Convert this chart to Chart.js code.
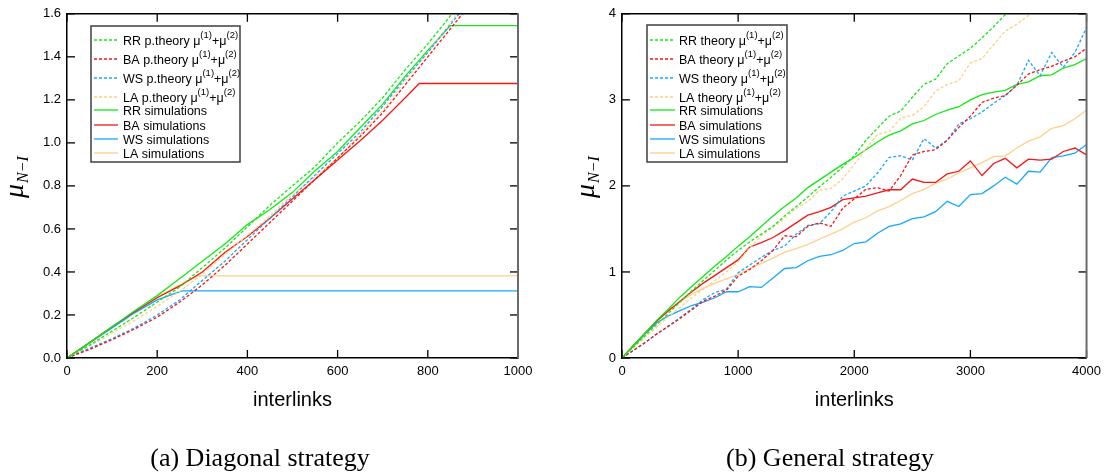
<!DOCTYPE html>
<html><head><meta charset="utf-8">
<script src="https://cdn.jsdelivr.net/npm/chart.js@4/dist/chart.umd.min.js"></script>
<style>
html,body{margin:0;padding:0;background:#fff;}
#wrap{position:relative;width:1107px;height:476px;overflow:hidden;background:#fff;}
canvas{position:absolute;top:0;}
#c1{left:0;} #c2{left:553px;}
.cap{position:absolute;top:443px;font-family:"Liberation Serif",serif;font-size:26px;line-height:30px;white-space:nowrap;transform:translateX(-50%);color:#000;}
</style></head><body>
<div id="wrap">
<canvas id="c1" width="540" height="476"></canvas>
<canvas id="c2" width="554" height="476"></canvas>
<div class="cap" style="left:260px">(a) Diagonal strategy</div>
<div class="cap" style="left:830px">(b) General strategy</div>
</div>
<script>
// ---------- (a) Diagonal strategy ----------
const xA = [0,50,100,150,200,250,300,350,400,450,500,550,600,650,700,750,800,850,900,950,1000];
const rrTheoryA = [0,0.06,0.125,0.19,0.26,0.33,0.42,0.51,0.61,0.71,0.80,0.89,1.00,1.10,1.21,1.34,1.46,1.59,1.72];
const baTheoryA = [0,0.04,0.085,0.135,0.19,0.26,0.34,0.43,0.53,0.63,0.73,0.83,0.93,1.03,1.14,1.27,1.40,1.53,1.66];
const wsTheoryA = [0,0.045,0.09,0.14,0.20,0.27,0.36,0.45,0.55,0.65,0.75,0.85,0.95,1.05,1.17,1.30,1.42,1.55,1.68];
const laTheoryA = [0,0.055,0.115,0.175,0.24,0.31,0.39,0.48,0.57,0.66,0.76,0.84,0.93,1.04,1.15,1.29,1.42,1.56,1.70];
const rrSimAx = [0,50,100,150,200,250,300,350,400,450,500,550,600,650,700,750,800,850,1000];
const rrSimA  = [0,0.072,0.145,0.22,0.29,0.37,0.45,0.53,0.62,0.69,0.77,0.87,0.96,1.07,1.18,1.31,1.43,1.545,1.545];
const baSimAx = [0,50,100,150,200,250,300,350,400,450,500,550,600,650,700,750,781,1000];
const baSimA  = [0,0.072,0.145,0.215,0.28,0.335,0.40,0.49,0.565,0.65,0.74,0.83,0.92,1.01,1.105,1.21,1.276,1.276];
const wsSimAx = [0,50,100,150,200,255,1000];
const wsSimA  = [0,0.07,0.14,0.21,0.27,0.312,0.312];
const laSimAx = [0,50,100,150,200,250,290,1000];
const laSimA  = [0,0.072,0.145,0.215,0.285,0.34,0.382,0.382];

// ---------- (b) General strategy ----------
const xB = [0,100,200,300,400,500,600,700,800,900,1000,1100,1200,1300,1400,1500,1600,1700,1800,1900,2000,
            2100,2200,2300,2400,2500,2600,2700,2800,2900,3000,3100,3200,3300,3400,3500,3600,3700,3800,3900,4000];
const rrTheoryB = [0,0.13,0.26,0.39,0.52,0.65,0.78,0.90,1.02,1.14,1.25,1.35,1.44,1.53,1.65,1.76,1.87,1.99,2.10,2.22,2.35,
                   2.53,2.67,2.81,2.87,3.03,3.18,3.24,3.42,3.51,3.60,3.72,3.85,3.99,4.13];
const baTheoryB = [0,0.09,0.18,0.28,0.37,0.46,0.56,0.66,0.72,0.79,0.95,1.03,1.13,1.25,1.42,1.41,1.53,1.57,1.53,1.74,1.85,
                   1.96,1.98,1.94,2.12,2.36,2.40,2.42,2.53,2.68,2.81,2.97,3.02,3.05,3.17,3.30,3.35,3.39,3.45,3.50,3.60];
const wsTheoryB = [0,0.09,0.18,0.28,0.37,0.47,0.57,0.68,0.76,0.80,0.99,1.08,1.17,1.25,1.30,1.44,1.54,1.56,1.70,1.88,1.94,
                   2.00,2.15,2.33,2.35,2.30,2.55,2.44,2.53,2.72,2.78,2.86,2.96,3.05,3.17,3.46,3.28,3.55,3.38,3.55,3.84];
const laTheoryB = [0,0.12,0.24,0.36,0.48,0.59,0.70,0.80,0.90,1.00,1.12,1.28,1.42,1.52,1.62,1.74,1.82,1.95,1.97,2.08,2.25,
                   2.43,2.60,2.63,2.79,2.82,2.92,3.10,3.18,3.22,3.43,3.48,3.64,3.80,3.88,3.98,4.10];
const rrSimB = [0,0.15,0.29,0.44,0.57,0.71,0.83,0.95,1.07,1.18,1.30,1.41,1.53,1.65,1.76,1.86,1.98,2.07,2.16,2.25,2.33,
                2.42,2.51,2.59,2.64,2.72,2.76,2.83,2.88,2.92,3.00,3.06,3.09,3.11,3.18,3.21,3.28,3.29,3.37,3.41,3.48];
const baSimB = [0,0.15,0.29,0.43,0.55,0.66,0.77,0.87,0.96,1.05,1.14,1.29,1.34,1.40,1.48,1.57,1.66,1.70,1.75,1.84,1.86,
                1.88,1.92,1.955,1.955,2.08,2.04,2.04,2.14,2.17,2.29,2.12,2.26,2.32,2.21,2.31,2.30,2.31,2.40,2.44,2.36];
const wsSimB = [0,0.14,0.28,0.41,0.49,0.55,0.61,0.65,0.70,0.77,0.77,0.83,0.82,0.93,1.04,1.05,1.13,1.18,1.20,1.25,1.33,
                1.35,1.45,1.53,1.56,1.62,1.64,1.70,1.82,1.76,1.90,1.91,2.00,2.10,2.02,2.17,2.16,2.33,2.35,2.38,2.48];
const laSimB = [0,0.15,0.29,0.43,0.55,0.65,0.74,0.81,0.87,0.92,0.97,1.04,1.10,1.16,1.23,1.27,1.32,1.38,1.44,1.50,1.58,
                1.63,1.71,1.76,1.83,1.91,1.96,2.03,2.08,2.15,2.21,2.27,2.34,2.35,2.44,2.52,2.57,2.67,2.70,2.78,2.88];

const xTicksA = [0,200,400,600,800,1000];
const yTicksA = [0,0.2,0.4,0.6,0.8,1.0,1.2,1.4,1.6];
const xTicksB = [0,1000,2000,3000,4000];
const yTicksB = [0,1,2,3,4];

const GREEN = 'rgb(20,232,20)', RED = 'rgb(245,22,22)', BLUE = 'rgb(22,168,255)', ORANGE = 'rgb(255,208,135)';
const FONT = '"Liberation Sans", Arial, Helvetica, sans-serif';

function series(xs, ys){ return ys.map((v,i)=>({x:xs[i], y:v})); }
function ds(label, xs, ys, color, dashed){
  return {label, data:series(xs, ys), borderColor:color, backgroundColor:color,
          borderWidth:1.3, borderDash:dashed?[3,2]:[], pointRadius:0, pointHoverRadius:0,
          fill:false, tension:0};
}

const frame = {
  id:'frame',
  afterDraw(chart){
    const {ctx, chartArea:a, scales:{x, y}} = chart;
    ctx.save();
    const L = 8;
    const seg = (x1,y1,x2,y2)=>{ctx.beginPath();ctx.moveTo(x1,y1);ctx.lineTo(x2,y2);ctx.stroke();};
    ctx.strokeStyle = '#000'; ctx.lineWidth = 1.3;
    x.ticks.forEach(t=>{ const p = x.getPixelForValue(t.value);
      seg(p, a.bottom, p, a.bottom - L); seg(p, a.top, p, a.top + L); });
    y.ticks.forEach(t=>{ const p = y.getPixelForValue(t.value);
      seg(a.left, p, a.left + L, p); seg(a.right, p, a.right - L, p); });
    ctx.lineWidth = 1.5; seg(a.left, a.top, a.right, a.top);
    ctx.strokeStyle = '#6a6a6a'; ctx.lineWidth = 2; seg(a.right, a.top - 0.5, a.right, a.bottom);
    ctx.restore();
  }
};

function legendPlugin(o){
  return { id:'legbox', afterDatasetsDraw(chart){
    const ctx = chart.ctx; ctx.save();
    ctx.fillStyle = '#fff'; ctx.fillRect(o.x, o.y, o.w, o.h);
    ctx.strokeStyle = '#4a4a4a'; ctx.lineWidth = 1.6; ctx.strokeRect(o.x, o.y, o.w, o.h);
    chart.data.datasets.forEach((d, i)=>{
      const yy = o.rows[i];
      ctx.beginPath(); ctx.setLineDash(d.borderDash); ctx.strokeStyle = d.borderColor; ctx.lineWidth = 1.3;
      ctx.moveTo(o.x0, yy); ctx.lineTo(o.x1, yy); ctx.stroke(); ctx.setLineDash([]);
      ctx.fillStyle = '#000'; ctx.textBaseline = 'alphabetic'; ctx.textAlign = 'left';
      let xx = o.tx; const base = yy + 4.5;
      d.label.split(/(\(\d\))/).filter(s=>s.length).forEach(p=>{
        const sup = /^\(\d\)$/.test(p);
        ctx.font = (sup ? '9.5px ' : '12.5px ') + FONT;
        ctx.fillText(p, xx, sup ? base - 6.5 : base);
        xx += ctx.measureText(p).width;
      });
    });
    ctx.restore();
  }};
}

function yTitle(o){
  return { id:'ytitle', afterDraw(chart){
    const ctx = chart.ctx; ctx.save();
    ctx.translate(o.x, o.y); ctx.rotate(-Math.PI/2);
    ctx.fillStyle = '#000'; ctx.textBaseline = 'alphabetic'; ctx.textAlign = 'left';
    ctx.font = 'italic 28px "Liberation Serif", "DejaVu Serif", serif';
    ctx.fillText('μ', 0, 0);
    const w = ctx.measureText('μ').width;
    ctx.font = 'italic 16px "Liberation Serif", "DejaVu Serif", serif';
    ctx.fillText('N−I', w + 1, 5);
    ctx.restore();
  }};
}

function axisOpts(min, max, ticksArr, fmt, isX, fitSize){
  const o = {
    type:'linear', min, max,
    afterBuildTicks(s){ s.ticks = ticksArr.map(v=>({value:v})); },
    ticks:{ font:{family:FONT, size:13}, color:'#000', padding:6, maxRotation:0, autoSkip:false,
            callback:v=>fmt(v) },
    grid:{ display:false, drawTicks:false },
    border:{ display:true, color:'#000', width:1.5 }
  };
  if (isX){
    o.title = { display:true, text:'interlinks', color:'#000', font:{family:FONT, size:20}, padding:{top:0, bottom:6} };
    o.afterFit = s=>{ s.height = fitSize; };
  } else {
    o.afterFit = s=>{ s.width = fitSize; };
  }
  return o;
}

const common = {
  responsive:false, animation:false, devicePixelRatio:1,
  plugins:{ legend:{display:false}, tooltip:{enabled:false} },
  elements:{ line:{ capBezierPoints:false } }
};

new Chart(document.getElementById('c1'), {
  type:'line',
  data:{ datasets:[
    ds('RR p.theory μ(1)+μ(2)', xA, rrTheoryA, GREEN, true),
    ds('BA p.theory μ(1)+μ(2)', xA, baTheoryA, RED, true),
    ds('WS p.theory μ(1)+μ(2)', xA, wsTheoryA, BLUE, true),
    ds('LA p.theory μ(1)+μ(2)', xA, laTheoryA, ORANGE, true),
    ds('RR simulations', rrSimAx, rrSimA, GREEN, false),
    ds('BA simulations', baSimAx, baSimA, RED, false),
    ds('WS simulations', wsSimAx, wsSimA, BLUE, false),
    ds('LA simulations', laSimAx, laSimA, ORANGE, false)
  ]},
  options: Object.assign({}, common, {
    layout:{ padding:{left:0, top:6, right:22, bottom:58} },
    scales:{
      x: axisOpts(0, 1000, xTicksA, v=>String(v), true, 60),
      y: axisOpts(0, 1.6, yTicksA, v=>Number(v).toFixed(1), false, 67)
    }
  }),
  plugins:[frame,
    legendPlugin({x:91, y:26, w:149, h:136, x0:94, x1:118, tx:123, rows:[40,59,78,97,110,125,139,153]}),
    yTitle({x:23, y:198})]
});

new Chart(document.getElementById('c2'), {
  type:'line',
  data:{ datasets:[
    ds('RR theory μ(1)+μ(2)', xB, rrTheoryB, GREEN, true),
    ds('BA theory μ(1)+μ(2)', xB, baTheoryB, RED, true),
    ds('WS theory μ(1)+μ(2)', xB, wsTheoryB, BLUE, true),
    ds('LA theory μ(1)+μ(2)', xB, laTheoryB, ORANGE, true),
    ds('RR simulations', xB, rrSimB, GREEN, false),
    ds('BA simulations', xB, baSimB, RED, false),
    ds('WS simulations', xB, wsSimB, BLUE, false),
    ds('LA simulations', xB, laSimB, ORANGE, false)
  ]},
  options: Object.assign({}, common, {
    layout:{ padding:{left:0, top:6, right:19, bottom:58} },
    scales:{
      x: axisOpts(0, 4000, xTicksB, v=>String(v), true, 60),
      y: axisOpts(0, 4, yTicksB, v=>String(v), false, 69)
    }
  }),
  plugins:[frame,
    legendPlugin({x:94, y:25, w:140, h:137, x0:97, x1:122, tx:126, rows:[40,59,78,97,110,125,139,153]}),
    yTitle({x:41, y:198})]
});
</script>
</body></html>
